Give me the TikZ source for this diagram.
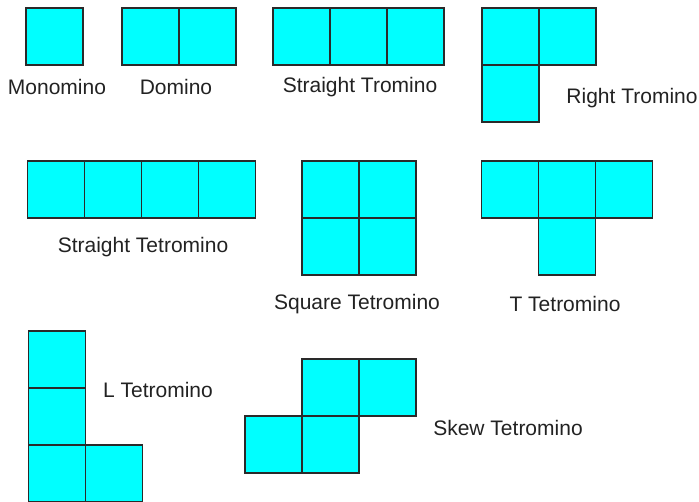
\documentclass[tikz,border=0pt]{standalone}
\usepackage{fontspec}
\setmainfont{Liberation Sans}
\definecolor{cellfill}{HTML}{00FFFF}
\definecolor{cellline}{HTML}{2A2A2A}
\definecolor{txt}{HTML}{222222}
\begin{document}
\begin{tikzpicture}[x=1pt,y=-1pt,
  cell/.style={draw=cellline,fill=cellfill,line width=1.6pt,minimum size=57pt,inner sep=0pt,outer sep=0pt},
  lbl/.style={text=txt,font=\fontsize{21}{25}\selectfont,inner sep=0pt}]
\useasboundingbox (0,0) rectangle (699,501);
% Monomino
\node[cell] (mo1) at (54.5,36.5) {};
% Domino
\node[cell] (do1) at (150.5,36.5) {};
\node[cell] (do2) at (207.5,36.5) {};
% Straight Tromino
\node[cell] (st1) at (301.5,36.5) {};
\node[cell] (st2) at (358.5,36.5) {};
\node[cell] (st3) at (415.5,36.5) {};
% Right Tromino
\node[cell] (rt1) at (510.5,36.5) {};
\node[cell] (rt2) at (567.5,36.5) {};
\node[cell] (rt3) at (510.5,93.5) {};
% Straight Tetromino
\node[cell] (sq1) at (56,189.5) {};
\node[cell] (sq2) at (113,189.5) {};
\node[cell] (sq3) at (170,189.5) {};
\node[cell] (sq4) at (227,189.5) {};
% Square Tetromino
\node[cell] (ss1) at (330.5,189.5) {};
\node[cell] (ss2) at (387.5,189.5) {};
\node[cell] (ss3) at (330.5,246.5) {};
\node[cell] (ss4) at (387.5,246.5) {};
% T Tetromino
\node[cell] (tt1) at (510,189.5) {};
\node[cell] (tt2) at (567,189.5) {};
\node[cell] (tt3) at (624,189.5) {};
\node[cell] (tt4) at (567,246.5) {};
% L Tetromino
\node[cell] (lt1) at (57,359.5) {};
\node[cell] (lt2) at (57,416.5) {};
\node[cell] (lt3) at (57,473.5) {};
\node[cell] (lt4) at (114,473.5) {};
% Skew Tetromino
\node[cell] (sk1) at (330.5,387.5) {};
\node[cell] (sk2) at (387.5,387.5) {};
\node[cell] (sk3) at (273.5,444.5) {};
\node[cell] (sk4) at (330.5,444.5) {};
% Labels
\node[lbl] (l1) at (57,87) {Monomino};
\node[lbl] (l2) at (176,87) {Domino};
\node[lbl] (l3) at (360,87) {Straight Tromino};
\node[lbl] (l4) at (632,98) {Right Tromino};
\node[lbl] (l5) at (143,247) {Straight Tetromino};
\node[lbl] (l6) at (357,304) {Square Tetromino};
\node[lbl] (l7) at (565,304) {T Tetromino};
\node[lbl] (l8) at (158,390) {L Tetromino};
\node[lbl] (l9) at (508,428) {Skew Tetromino};
\end{tikzpicture}
\end{document}
